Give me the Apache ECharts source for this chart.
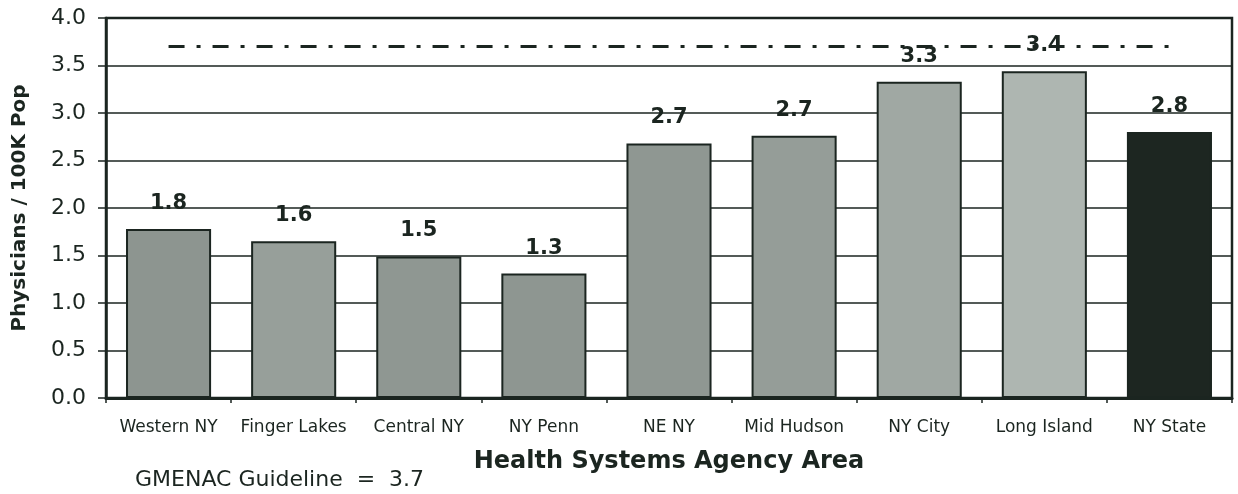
<!DOCTYPE html>
<html>
<head>
<meta charset="utf-8">
<script src="https://cdn.jsdelivr.net/npm/echarts@6/dist/echarts.min.js"></script>
<style>
html,body{margin:0;padding:0;background:#fff;}
#c{width:1238px;height:494px;}
</style>
</head>
<body>
<div id="c"></div>
<script>
const categories = ['Western NY','Finger Lakes','Central NY','NY Penn','NE NY','Mid Hudson','NY City','Long Island','NY State'];
const values = [1.78, 1.65, 1.49, 1.31, 2.68, 2.76, 3.33, 3.44, 2.80];
const labels = ['1.8','1.6','1.5','1.3','2.7','2.7','3.3','3.4','2.8'];
const barColors = ['#8d9590','#979f9a','#8f9792','#8e9691','#8f9792','#959d98','#a0a8a3','#aeb6b1','#1d2621'];
const yTicks = ['0.0','0.5','1.0','1.5','2.0','2.5','3.0','3.5','4.0'];
const guideline = 3.7;

const ink = '#1b2520';
const font = '"DejaVu Sans", "Liberation Sans", Arial, sans-serif';

const chart = echarts.init(document.getElementById('c'), null, {renderer:'canvas'});
chart.setOption({
  animation:false,
  backgroundColor:'#ffffff',
  grid:{left:106, right:6, top:18, bottom:96, show:true, borderColor:ink, borderWidth:2.5},
  xAxis:{
    type:'category', data:categories,
    axisLine:{lineStyle:{color:ink, width:3}},
    axisTick:{show:true, interval:0, length:5, lineStyle:{color:ink, width:1.5}},
    axisLabel:{color:ink, fontFamily:font, fontSize:17, margin:21, interval:0},
    name:'Health Systems Agency Area', nameLocation:'middle', nameGap:52,
    nameTextStyle:{color:ink, fontFamily:font, fontSize:24, fontWeight:'bold'}
  },
  yAxis:{
    type:'value', min:0, max:4, interval:0.5,
    axisLine:{show:true, lineStyle:{color:ink, width:2.5}},
    axisTick:{show:true, length:8, lineStyle:{color:ink, width:1.5}},
    axisLabel:{color:ink, fontFamily:font, fontSize:22, margin:20,
      formatter:(v)=>yTicks[Math.round(v/0.5)]},
    splitLine:{show:true, lineStyle:{color:ink, width:1.5}},
    name:'Physicians / 100K Pop', nameLocation:'middle', nameGap:76,
    nameTextStyle:{color:ink, fontFamily:font, fontSize:20, fontWeight:'bold'}
  },
  series:[{
    type:'bar', barWidth:'68%',
    data:values.map((v,i)=>({value:v, itemStyle:{color:barColors[i]},
      label:{formatter:labels[i]}})),
    itemStyle:{borderColor:ink, borderWidth:2},
    label:{show:true, position:'top', distance:15, color:ink, fontFamily:font, fontSize:21, fontWeight:'bold'},
    markLine:{
      silent:true, symbol:['none','none'],
      label:{show:false},
      lineStyle:{color:ink, width:3, type:[16,12,4,12]},
      data:[[{coord:[categories[0], guideline]},{coord:[categories[categories.length-1], guideline]}]]
    }
  }],
  graphic:[{
    type:'text', left:135, top:469,
    style:{text:'GMENAC Guideline  =  3.7', fill:ink, font:'22px "DejaVu Sans", "Liberation Sans", Arial, sans-serif'}
  }]
});
</script>
</body>
</html>
